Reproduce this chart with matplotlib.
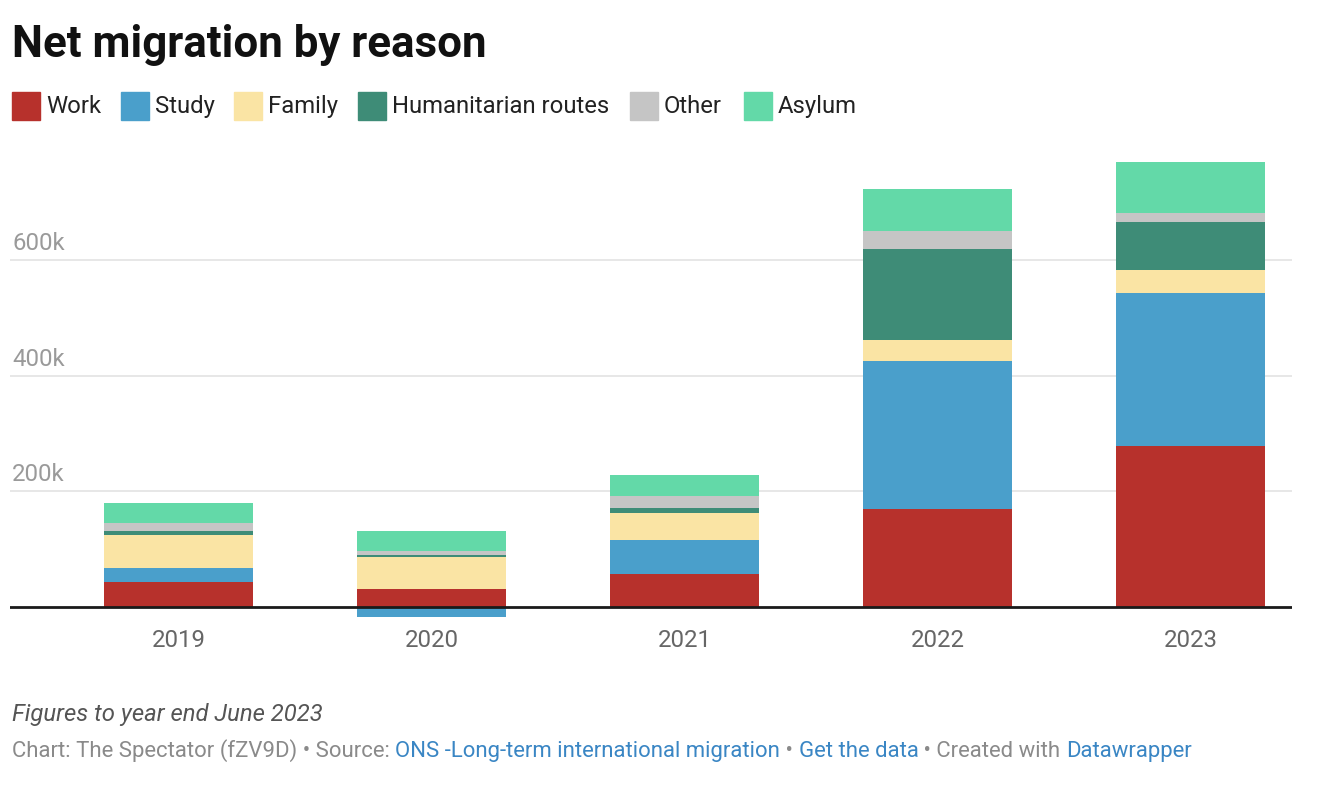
import matplotlib
matplotlib.use('Agg')
import matplotlib.pyplot as plt
import numpy as np

plt.rcParams['font.family'] = ['Roboto', 'DejaVu Sans']

years = ['2019', '2020', '2021', '2022', '2023']
reasons = ['Work', 'Study', 'Family', 'Humanitarian routes', 'Other', 'Asylum']
colors = ['#b7312c', '#4a9fcb', '#fae4a4', '#3e8c77', '#c5c5c5', '#63d9a8']

# thousands
work = [43, 31, 56, 169, 278]
study = [24, -19, 59, 256, 265]
family = [56, 54, 47, 37, 40]
humanitarian = [7, 3.5, 9, 157, 83]
other = [14, 7, 21, 31, 16]
asylum = [35, 36, 35, 73, 88]
series = [work, study, family, humanitarian, other, asylum]

yticks = [200, 400, 600]
W, H = 1318, 802

fig = plt.figure(figsize=(W / 100, H / 100), dpi=100, facecolor='white')
ax = fig.add_axes([10 / W, 1 - 625 / H, 1282 / W, 475 / H])

x = np.arange(len(years))
pos = np.zeros(len(years))
neg = np.zeros(len(years))
for vals, c in zip(series, colors):
    v = np.array(vals, dtype=float)
    bottom = np.where(v >= 0, pos, neg)
    ax.bar(x, v, bottom=bottom, width=0.59, color=c, zorder=2, linewidth=0)
    pos = pos + np.where(v >= 0, v, 0)
    neg = neg + np.where(v < 0, v, 0)

ax.set_xlim(-0.666, 4.40)
ax.set_ylim(-32, 790.5)
for t in yticks:
    ax.axhline(t, color='#e3e3e3', lw=1.2, zorder=1)
    ax.annotate(f'{t}k', xy=(0, t), xycoords=('axes fraction', 'data'),
                xytext=(1.5, 7), textcoords='offset points', ha='left', va='baseline',
                fontsize=17.3, color='#9a9a9a')
ax.axhline(0, color='#1a1a1a', lw=2, zorder=3)

for s in ax.spines.values():
    s.set_visible(False)
ax.set_yticks([])
ax.set_xticks(x)
ax.set_xticklabels(years, fontsize=17.3, color='#666666')
ax.tick_params(axis='x', length=0, pad=3)

fig.text(12 / W, 1 - 57 / H, 'Net migration by reason', fontsize=31.6, fontweight='bold',
         color='#111111', va='baseline')

legend_x = [12, 121, 234, 358, 630, 744]
for lx, name, c in zip(legend_x, reasons, colors):
    fig.patches.append(plt.Rectangle((lx / W, 1 - 120 / H), 28 / W, 28 / H,
                                     transform=fig.transFigure, color=c, figure=fig))
    fig.text((lx + 34) / W, 1 - 113 / H, name, fontsize=17.2, color='#222222', va='baseline')

fig.text(12 / W, 1 - 721 / H, 'Figures to year end June 2023', fontsize=17.2,
         style='italic', color='#555555', va='baseline')

parts = [('Chart: The Spectator (fZV9D) • Source: ', '#8a8a8a'),
         ('ONS -Long-term international migration', '#3a86c4'),
         (' • ', '#8a8a8a'),
         ('Get the data', '#3a86c4'),
         (' • Created with ', '#8a8a8a'),
         ('Datawrapper', '#3a86c4')]
fig.canvas.draw()
r = fig.canvas.get_renderer()
cx = 12
for txt, c in parts:
    t = fig.text(cx / W, 1 - 757 / H, txt, fontsize=15.9, color=c, va='baseline')
    cx += t.get_window_extent(renderer=r).width

fig.savefig('out.png', dpi=100, facecolor='white')
